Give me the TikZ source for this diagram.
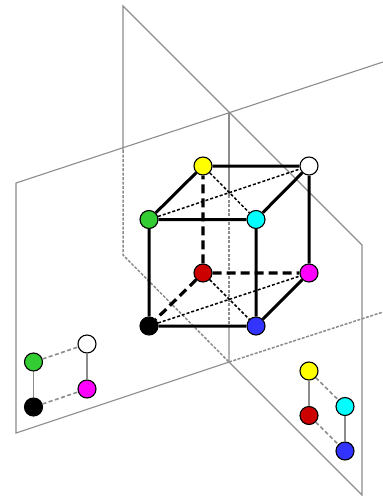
\documentclass[tikz,border=0pt]{standalone}
\usepackage{xcolor}
\usepackage{tikz}
\definecolor{planeGri}{HTML}{8C8C8C}
\definecolor{yesil}{HTML}{33CC33}
\definecolor{kirmizi}{HTML}{CC0000}
\definecolor{mavi}{HTML}{3333FF}
\definecolor{camgobegi}{HTML}{00FFFF}
\definecolor{eflatun}{HTML}{FF00FF}
\definecolor{sari}{HTML}{FFFF00}
\begin{document}
\begin{tikzpicture}[x=1pt,y=-1pt,
  nokta/.style={circle,draw=black,line width=1.1pt,minimum size=18pt,inner sep=0pt},
  duzlem/.style={draw=planeGri,line width=1.1pt},
  duzlemkesik/.style={draw=planeGri,line width=1.5pt,dash pattern=on 3pt off 1.5pt},
  kenar/.style={line width=3pt},
  kenarkesik/.style={line width=3.2pt,dash pattern=on 9pt off 5pt},
  capraz/.style={line width=1.5pt,dash pattern=on 3pt off 2pt},
  izdus/.style={draw=planeGri,line width=1.3pt},
  izduskesik/.style={draw=planeGri,line width=1.6pt,dash pattern=on 4pt off 2.5pt}]
\useasboundingbox (0,0) rectangle (383,496);
% planes
\coordinate (p1) at (16,183);
\coordinate (p2) at (16,433);
\coordinate (p3) at (229,362);
\coordinate (p4) at (383,312);
\coordinate (p5) at (383,62);
\coordinate (p6) at (229,112);
\coordinate (p7) at (229,195);
\coordinate (p8) at (229,326);
\coordinate (q1) at (123,6);
\coordinate (q2) at (123,150);
\coordinate (q3) at (123,255);
\coordinate (q4) at (362,495);
\coordinate (q5) at (362,245);
\draw[duzlem] (p5)--(p1)--(p2)--(p3);
\draw[duzlemkesik] (p3)--(p4);
\draw[duzlem] (q2)--(q1)--(q5)--(q4)--(p3)--(p8);
\draw[duzlem] (p6)--(p7);
\draw[duzlemkesik] (p7)--(p8);
\draw[duzlemkesik] (q2)--(q3)--(p3);
% cube
\node[nokta,fill=black] (a) at (149,326) {};
\node[nokta,fill=mavi] (b) at (256,326) {};
\node[nokta,fill=eflatun] (c) at (309,273) {};
\node[nokta,fill=kirmizi] (d) at (203,273) {};
\node[nokta,fill=yesil] (e) at (149,219.5) {};
\node[nokta,fill=camgobegi] (f) at (256,219.5) {};
\node[nokta,fill=white] (g) at (309,166) {};
\node[nokta,fill=sari] (h) at (203,166) {};
\draw[kenar] (a)--(b) (b)--(c) (c)--(g) (g)--(h) (h)--(e) (e)--(a) (e)--(f) (f)--(g) (f)--(b);
\draw[kenarkesik] (d)--(h) (d)--(c) (d)--(a);
\draw[capraz] (h)--(f) (e)--(g) (d)--(b) (a)--(c);
% left projection
\node[nokta,fill=yesil] (e1) at (33.5,362) {};
\node[nokta,fill=white] (g1) at (87,344) {};
\node[nokta,fill=black] (a1) at (33.5,407) {};
\node[nokta,fill=eflatun] (c1) at (87,389) {};
\draw[izdus] (e1)--(a1) (g1)--(c1);
\draw[izduskesik] (e1)--(g1) (a1)--(c1);
% right projection
\node[nokta,fill=sari] (h1) at (309,371) {};
\node[nokta,fill=camgobegi] (f1) at (345,406.5) {};
\node[nokta,fill=kirmizi] (d1) at (309,415.5) {};
\node[nokta,fill=mavi] (b1) at (345,451) {};
\draw[izdus] (h1)--(d1) (f1)--(b1);
\draw[izduskesik] (h1)--(f1) (d1)--(b1);
\end{tikzpicture}
\end{document}
